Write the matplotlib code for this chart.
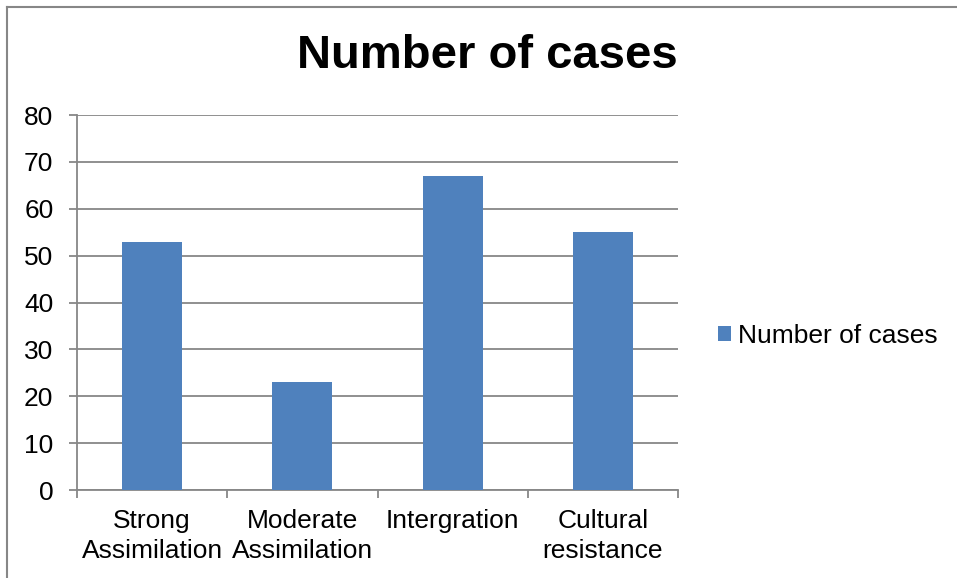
import matplotlib
matplotlib.use("Agg")
import matplotlib.pyplot as plt
from matplotlib.lines import Line2D
from matplotlib.patches import Patch

categories = ["Strong\nAssimilation", "Moderate\nAssimilation", "Intergration", "Cultural\nresistance"]
cases = [53, 23, 67, 55]
y_ticks = [0, 10, 20, 30, 40, 50, 60, 70, 80]
series_name = "Number of cases"

bar_color = "#4F81BD"
grid_color = "#878787"
font = "Liberation Sans"
label_size = 19

W, H = 957, 578
fig = plt.figure(figsize=(W / 100, H / 100), dpi=100)
fig.patch.set_facecolor("white")

ax = fig.add_axes([77 / W, 1 - 490 / H, (678 - 77) / W, (490 - 115) / H])
x = list(range(len(categories)))
ax.bar(x, cases, width=0.4, color=bar_color, zorder=3, label=series_name)
ax.set_xlim(-0.5, len(categories) - 0.5)
ax.set_ylim(0, 80)
ax.set_yticks(y_ticks)
ax.set_yticklabels([str(v) for v in y_ticks], fontsize=label_size, family=font)
ax.yaxis.grid(True, color=grid_color, linewidth=1.3, zorder=0)
ax.tick_params(axis="y", length=6, width=1.3, color=grid_color, pad=11)

# category labels centred under each bar, ticks on the boundaries
ax.set_xticks(x)
ax.set_xticklabels(categories, fontsize=label_size, family=font, linespacing=1.27)
ax.tick_params(axis="x", length=0, pad=14)
ax.set_xticks([i - 0.5 for i in range(len(categories) + 1)], minor=True)
ax.tick_params(axis="x", which="minor", length=6, width=1.3, color=grid_color)

for side in ("top", "right"):
    ax.spines[side].set_visible(False)
for side in ("left", "bottom"):
    ax.spines[side].set_color(grid_color)
    ax.spines[side].set_linewidth(1.3)

fig.text(487 / W, 1 - 56 / H, "Number of cases", ha="center", va="center",
         fontsize=34, fontweight="bold", family=font)

handle = Patch(facecolor=bar_color, edgecolor="none")
fig.legend([handle], [series_name], loc="center left",
           bbox_to_anchor=(718 / W, 1 - 336 / H), frameon=False,
           prop={"family": font, "size": label_size}, handlelength=0.5, handleheight=0.5,
           handletextpad=0.25, borderaxespad=0, borderpad=0)

# outer chart frame (top and left edges)
fig.add_artist(Line2D([6.5 / W, 6.5 / W], [0, 1 - 6.5 / H], transform=fig.transFigure,
                      color=grid_color, linewidth=1.5))
fig.add_artist(Line2D([6.5 / W, 1], [1 - 6.5 / H, 1 - 6.5 / H], transform=fig.transFigure,
                      color=grid_color, linewidth=1.5))

fig.savefig("out.png", dpi=100, facecolor="white")
